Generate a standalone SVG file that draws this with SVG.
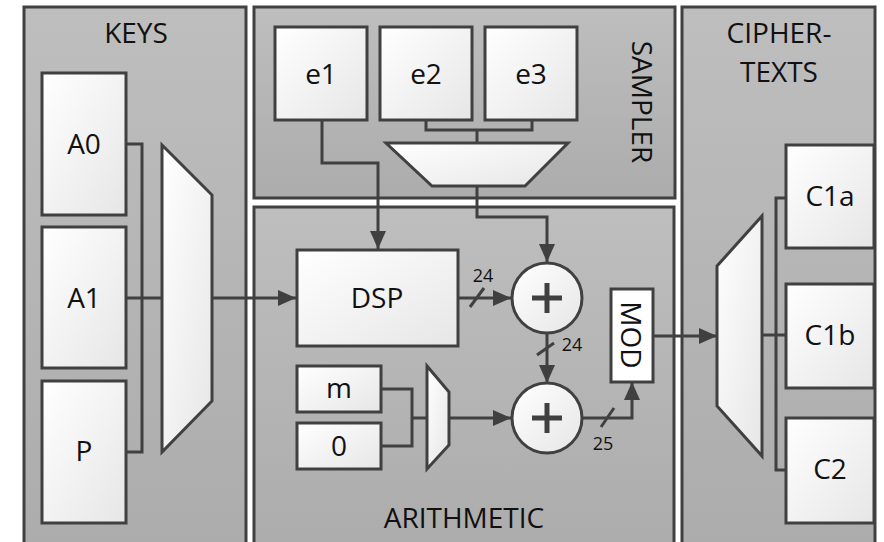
<svg xmlns="http://www.w3.org/2000/svg" width="884" height="542" viewBox="0 0 884 542">
<defs>
<linearGradient id="pg" x1="0" y1="0" x2="0" y2="1"><stop offset="0" stop-color="#bebebe"/><stop offset="1" stop-color="#acacac"/></linearGradient>
<linearGradient id="bg" x1="0" y1="0" x2="1" y2="1"><stop offset="0" stop-color="#ffffff"/><stop offset="1" stop-color="#e6e6e6"/></linearGradient>
<marker id="ar" markerUnits="userSpaceOnUse" markerWidth="18" markerHeight="16" refX="18" refY="8" orient="auto"><path d="M0,0 L18,8 L0,16 z" fill="#404040"/></marker>
<style>
.panel{fill:url(#pg);stroke:#404040;stroke-width:3}
.box{fill:url(#bg);stroke:#404040;stroke-width:3}
.w{fill:none;stroke:#404040;stroke-width:3}
.a{fill:none;stroke:#404040;stroke-width:3;marker-end:url(#ar)}
text{font-family:"Open Sans","Noto Sans",sans-serif;fill:#111;text-anchor:middle}
.t{font-size:28px}
.s{font-size:18px}
</style>
</defs>
<rect width="884" height="542" fill="#fff"/>
<g id="keys-panel"><rect class="panel" x="24" y="7" width="222" height="545"/><text class="t" x="136" y="43">KEYS</text></g>
<g id="sampler-panel"><rect class="panel" x="254" y="7" width="421" height="191"/><text class="t" transform="translate(643,102) rotate(90)" dominant-baseline="central">SAMPLER</text></g>
<g id="arith-panel"><rect class="panel" x="254" y="207" width="420" height="345"/><text class="t" x="464" y="528">ARITHMETIC</text></g>
<g id="cipher-panel"><rect class="panel" x="682" y="7" width="193" height="545"/><text class="t" x="779" y="43">CIPHER-</text><text class="t" x="779" y="82">TEXTS</text></g>

<g id="connectors">
<polyline class="w" points="126,144 142,144 142,452 126,452"/>
<line class="w" x1="126" y1="298" x2="162" y2="298"/>
<line class="a" x1="212" y1="298" x2="296" y2="298"/>
<polyline class="w" points="426,120 426,130 532,130 532,120"/>
<line class="w" x1="477" y1="130" x2="477" y2="143"/>
<polyline class="a" points="322,120 322,163 378,163 378,249"/>
<polyline class="a" points="477,186 477,217 547,217 547,262"/>
<line class="a" x1="458" y1="298" x2="511" y2="298"/>
<line class="a" x1="547" y1="333" x2="547" y2="383"/>
<polyline class="w" points="381,389 412,389 412,446 381,446"/>
<line class="w" x1="412" y1="418" x2="427" y2="418"/>
<line class="a" x1="449" y1="418" x2="511" y2="418"/>
<polyline class="a" points="582,418 632,418 632,382"/>
<line class="a" x1="653" y1="336" x2="717" y2="336"/>
<polyline class="w" points="786,198 776,198 776,470 786,470"/>
<line class="w" x1="762" y1="335" x2="786" y2="335"/>
<line class="w" x1="470" y1="307" x2="484" y2="288" stroke-width="2"/>
<line class="w" x1="537" y1="355" x2="554" y2="343" stroke-width="2"/>
<line class="w" x1="601" y1="427" x2="614" y2="408" stroke-width="2"/>
<text class="s" x="483" y="282">24</text>
<text class="s" x="572" y="351">24</text>
<text class="s" x="603" y="450">25</text>
</g>

<g id="A0"><rect class="box" x="42" y="73" width="84" height="142"/><text class="t" x="84" y="154">A0</text></g>
<g id="A1"><rect class="box" x="42" y="227" width="84" height="141"/><text class="t" x="84" y="308">A1</text></g>
<g id="P"><rect class="box" x="42" y="381" width="84" height="142"/><text class="t" x="84" y="461">P</text></g>
<g id="key-mux"><polygon class="box" points="162,145 212,195 212,401 162,452"/></g>

<g id="e1"><rect class="box" x="275" y="27" width="92" height="93"/><text class="t" x="321" y="84">e1</text></g>
<g id="e2"><rect class="box" x="380" y="27" width="92" height="93"/><text class="t" x="426" y="84">e2</text></g>
<g id="e3"><rect class="box" x="485" y="27" width="92" height="93"/><text class="t" x="531" y="84">e3</text></g>
<g id="sampler-mux"><polygon class="box" points="386,143 568,143 525,186 432,186"/></g>

<g id="DSP"><rect class="box" x="297" y="250" width="161" height="96"/><text class="t" x="377" y="308">DSP</text></g>
<g id="add1"><circle class="box" cx="547" cy="298" r="35"/><path d="M547,283 V313 M532,298 H562" stroke="#404040" stroke-width="5"/></g>
<g id="add2"><circle class="box" cx="547" cy="418" r="35"/><path d="M547,403 V433 M532,418 H562" stroke="#404040" stroke-width="5"/></g>
<g id="m"><rect class="box" x="297" y="366" width="84" height="46"/><text class="t" x="339" y="398">m</text></g>
<g id="zero"><rect class="box" x="297" y="423" width="84" height="46"/><text class="t" x="339" y="456">0</text></g>
<g id="small-mux"><polygon class="box" points="427,366 449,392 449,445 427,469"/></g>
<g id="MOD"><rect x="611" y="289" width="42" height="93" fill="#fff" stroke="#404040" stroke-width="3"/><text class="t" transform="translate(632,335) rotate(90)" dominant-baseline="central">MOD</text></g>

<g id="cipher-mux"><polygon class="box" points="717,266 762,216 762,456 717,406"/></g>
<g id="C1a"><rect class="box" x="786" y="145" width="88" height="103"/><text class="t" x="830" y="206">C1a</text></g>
<g id="C1b"><rect class="box" x="786" y="284" width="88" height="104"/><text class="t" x="830" y="345">C1b</text></g>
<g id="C2"><rect class="box" x="786" y="418" width="88" height="105"/><text class="t" x="830" y="479">C2</text></g>
</svg>
